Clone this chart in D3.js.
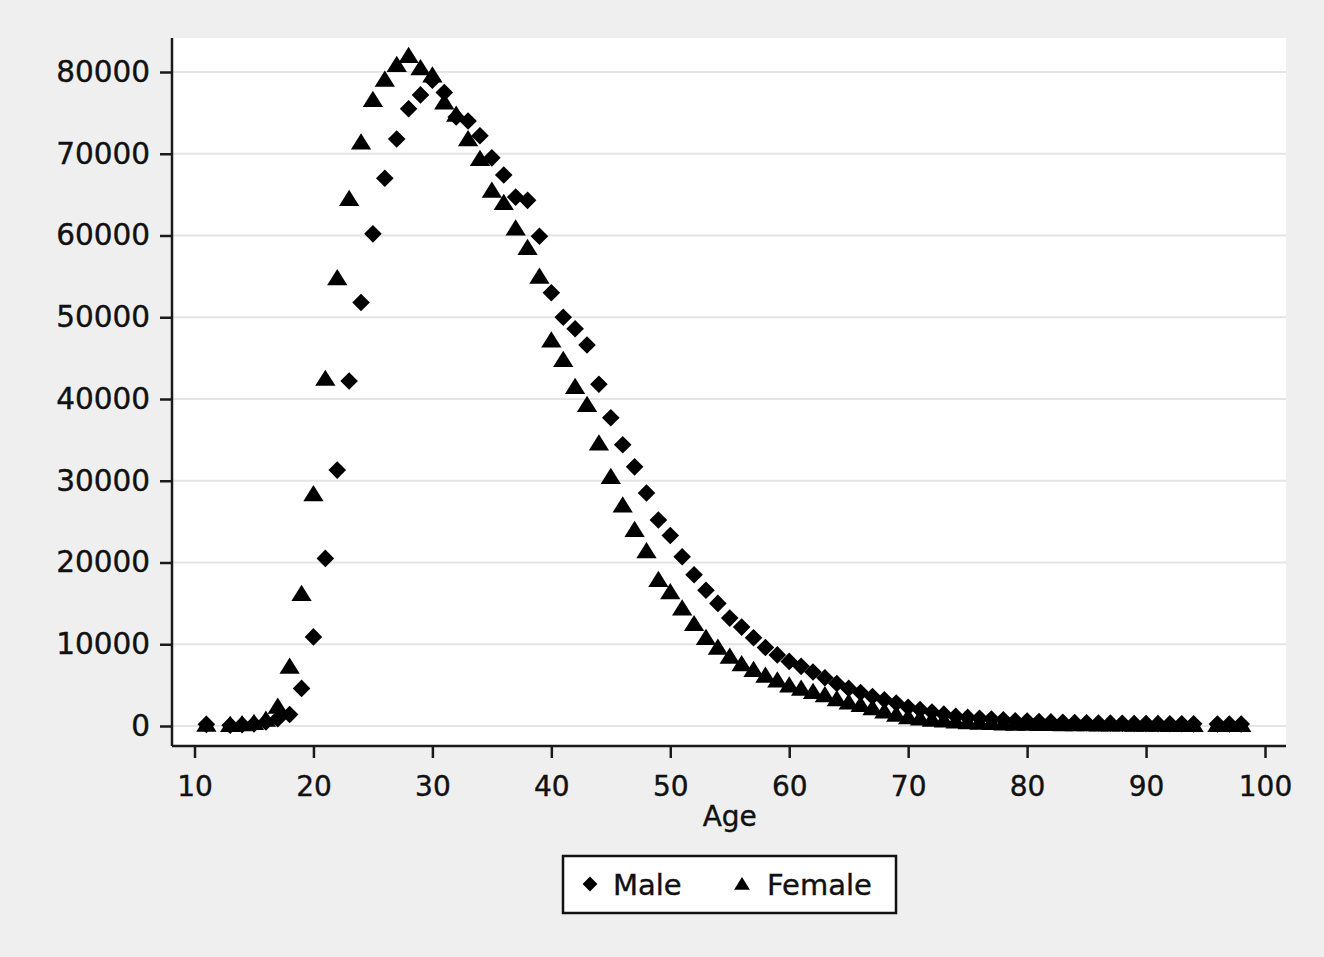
<!DOCTYPE html>
<html>
<head>
<meta charset="utf-8">
<script src="https://cdn.jsdelivr.net/npm/d3@7"></script>
<style>
  body { margin: 0; background: #efefef; }
  text { font-family: "DejaVu Sans", sans-serif; fill: #111; }
</style>
</head>
<body>
<div id="chart"></div>
<script>
// ages present in the data (12 and 95 have no observations)
const ages = [11, 13, 14, 15, 16, 17, 18, 19, 20, 21, 22, 23, 24, 25, 26, 27, 28, 29, 30,
  31, 32, 33, 34, 35, 36, 37, 38, 39, 40, 41, 42, 43, 44, 45, 46, 47, 48, 49, 50,
  51, 52, 53, 54, 55, 56, 57, 58, 59, 60, 61, 62, 63, 64, 65, 66, 67, 68, 69, 70,
  71, 72, 73, 74, 75, 76, 77, 78, 79, 80, 81, 82, 83, 84, 85, 86, 87, 88, 89, 90,
  91, 92, 93, 94, 96, 97, 98];

const male = [200, 100, 150, 250, 500, 900, 1400, 4600, 10900, 20500, 31300, 42200, 51800, 60200, 67000, 71800, 75500, 77200, 79000,
  77500, 74500, 74000, 72200, 69500, 67400, 64700, 64300, 59900, 53000, 50000, 48600, 46600, 41800, 37700, 34400, 31700, 28500, 25200, 23300,
  20700, 18500, 16600, 15000, 13200, 12100, 10800, 9600, 8700, 7900, 7300, 6600, 5900, 5200, 4600, 4100, 3600, 3200, 2800, 2300,
  2000, 1700, 1450, 1200, 1050, 950, 850, 750, 650, 600, 550, 500, 450, 420, 400, 370, 350, 330, 310, 300,
  290, 280, 270, 260, 250, 250, 240];

const female = [200, 150, 250, 400, 800, 2400, 7300, 16200, 28400, 42500, 54800, 64500, 71400, 76600, 79100, 80900, 82000, 80500, 79600,
  76300, 74800, 71800, 69400, 65500, 64000, 60900, 58500, 55000, 47200, 44800, 41500, 39300, 34600, 30500, 27000, 24000, 21400, 17900, 16400,
  14400, 12500, 10800, 9600, 8500, 7600, 6900, 6200, 5600, 5000, 4600, 4200, 3800, 3300, 2900, 2600, 2200, 1800, 1400, 1100,
  950, 800, 700, 600, 500, 450, 400, 350, 320, 300, 280, 270, 260, 250, 240, 230, 220, 210, 200, 190,
  180, 170, 160, 150, 150, 150, 150];

const xTicks = [10, 20, 30, 40, 50, 60, 70, 80, 90, 100];
const yTicks = [0, 10000, 20000, 30000, 40000, 50000, 60000, 70000, 80000];
const seriesNames = ["Male", "Female"];

const w = 1324;
const h = 957;
const plot = { left: 172, right: 1286, top: 38, bottom: 746 };

const xScale = d3.scaleLinear().domain([10, 100]).range([194.5, 1265]);
const yScale = d3.scaleLinear().domain([0, 80000]).range([726, 72]);

// Stata style markers
const diamond = {
  draw(ctx, size) {
    const r = Math.sqrt(size / 2);
    ctx.moveTo(0, -r); ctx.lineTo(r, 0); ctx.lineTo(0, r); ctx.lineTo(-r, 0); ctx.closePath();
  }
};
const triangle = {
  draw(ctx, size) {
    const b = Math.sqrt(size / 0.4), t = 0.8 * b;
    ctx.moveTo(0, -t * 0.55); ctx.lineTo(b / 2, t * 0.45); ctx.lineTo(-b / 2, t * 0.45); ctx.closePath();
  }
};

const svg = d3.select("#chart").append("svg")
  .attr("width", w)
  .attr("height", h);

svg.append("rect")
  .attr("width", w).attr("height", h)
  .attr("fill", "#efefef");

// plot region
svg.append("rect")
  .attr("x", plot.left).attr("y", plot.top)
  .attr("width", plot.right - plot.left).attr("height", plot.bottom - plot.top)
  .attr("fill", "#fff");

// grid lines
svg.append("g").selectAll("line")
  .data(yTicks)
  .enter().append("line")
  .attr("x1", plot.left).attr("x2", plot.right)
  .attr("y1", d => yScale(d)).attr("y2", d => yScale(d))
  .attr("stroke", "#e4e4e4")
  .attr("stroke-width", 2);

// axes
const yAxis = d3.axisLeft(yScale).tickValues(yTicks).tickSize(12).tickPadding(10).tickFormat(d3.format("d"));
const xAxis = d3.axisBottom(xScale).tickValues(xTicks).tickSize(12).tickPadding(18).tickFormat(d3.format("d"));

const gy = svg.append("g")
  .attr("transform", "translate(" + plot.left + ",0)")
  .call(yAxis);
gy.select(".domain").attr("d", "M0," + plot.top + "V" + plot.bottom);

const gx = svg.append("g")
  .attr("transform", "translate(0," + plot.bottom + ")")
  .call(xAxis);
gx.select(".domain").attr("d", "M" + plot.left + ",0H" + plot.right);

[gx, gy].forEach(g => {
  g.selectAll(".domain").attr("stroke", "#1a1a1a").attr("stroke-width", 2.5);
  g.selectAll(".tick line").attr("stroke", "#1a1a1a").attr("stroke-width", 2.5);
  g.selectAll(".tick text")
    .attr("font-family", "DejaVu Sans, sans-serif")
    .attr("fill", "#111")
    .attr("stroke", "#111")
    .attr("stroke-width", 0.4);
});
gy.selectAll(".tick text").attr("font-size", 29.5);
gx.selectAll(".tick text").attr("font-size", 28);

svg.append("text")
  .attr("x", (xScale(10) + xScale(100)) / 2)
  .attr("y", 826)
  .attr("text-anchor", "middle")
  .attr("font-size", 28)
  .attr("stroke", "#111")
  .attr("stroke-width", 0.4)
  .text("Age");

// points
const maleData = ages.map((a, i) => ({ age: a, v: male[i] }));
const femaleData = ages.map((a, i) => ({ age: a, v: female[i] }));

svg.append("g").selectAll("path")
  .data(maleData)
  .enter().append("path")
  .attr("transform", d => "translate(" + xScale(d.age) + "," + yScale(d.v) + ")")
  .attr("d", d3.symbol().type(diamond).size(155))
  .attr("fill", "#000");

svg.append("g").selectAll("path")
  .data(femaleData)
  .enter().append("path")
  .attr("transform", d => "translate(" + xScale(d.age) + "," + yScale(d.v) + ")")
  .attr("d", d3.symbol().type(triangle).size(165))
  .attr("fill", "#000");

// legend
const lg = svg.append("g");
lg.append("rect")
  .attr("x", 563).attr("y", 856)
  .attr("width", 333).attr("height", 57)
  .attr("fill", "#fff")
  .attr("stroke", "#111")
  .attr("stroke-width", 2.5);

const legendItems = [
  { name: seriesNames[0], type: diamond, size: 110, x: 590, dx: 23 },
  { name: seriesNames[1], type: triangle, size: 100, x: 742, dx: 25 }
];
legendItems.forEach(it => {
  lg.append("path")
    .attr("transform", "translate(" + it.x + ",884)")
    .attr("d", d3.symbol().type(it.type).size(it.size))
    .attr("fill", "#000");
  lg.append("text")
    .attr("x", it.x + it.dx)
    .attr("y", 895)
    .attr("font-size", 29)
    .attr("stroke", "#111")
    .attr("stroke-width", 0.4)
    .text(it.name);
});
</script>
</body>
</html>
